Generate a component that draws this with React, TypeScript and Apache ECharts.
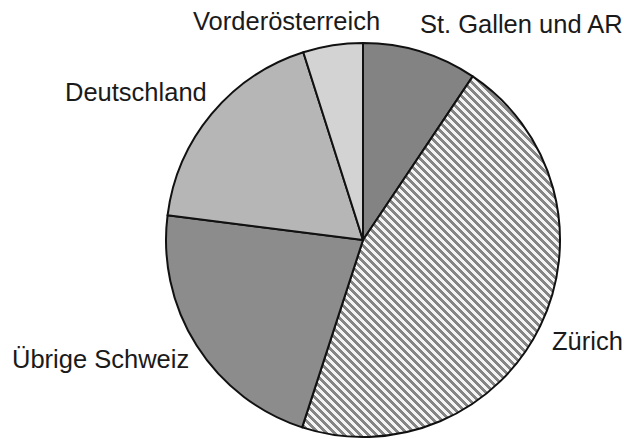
import React, { useEffect, useRef } from "react";
import * as echarts from "echarts";

const categories = ["St. Gallen und AR", "Zürich", "Übrige Schweiz", "Deutschland", "Vorderösterreich"];
const shares = [9.4, 45.6, 22.0, 18.1, 4.9];
const colors = ["#838383", "#858585", "#8c8c8c", "#b6b6b6", "#d3d3d3"];
const hatched = [false, true, false, false, false];
// label anchor positions (style only)
const labelPos = [
  { x: 420, y: 24, align: "left" },
  { x: 552, y: 341, align: "left" },
  { x: 12, y: 359, align: "left" },
  { x: 65, y: 92, align: "left" },
  { x: 193, y: 21, align: "left" },
];

function makeHatch(base: string): string {
  const n = 8;
  const c = document.createElement("canvas");
  c.width = n;
  c.height = n;
  const ctx = c.getContext("2d")!;
  ctx.fillStyle = base;
  ctx.fillRect(0, 0, n, n);
  ctx.fillStyle = "#f4f4f4";
  for (let y = 0; y < n; y++) {
    for (let x = 0; x < n; x++) {
      const k = (((x - y) % n) + n) % n;
      if (k < 4) ctx.fillRect(x, y, 1, 1);
    }
  }
  return c.toDataURL();
}

export default function App() {
  const ref = useRef<HTMLDivElement>(null);
  useEffect(() => {
    if (!ref.current) return;
    const chart = echarts.init(ref.current, null, { renderer: "svg" });
    chart.setOption({
      animation: false,
      backgroundColor: "#ffffff",
      series: [
        {
          type: "pie",
          center: [363, 240],
          radius: 197,
          startAngle: 90,
          clockwise: true,
          silent: true,
          avoidLabelOverlap: false,
          label: {
            show: true,
            position: "outside",
            formatter: "{b}",
            fontFamily: "Liberation Sans, Arial, sans-serif",
            fontSize: 25.5,
            color: "#1a1a1a",
          },
          labelLine: { show: false },
          labelLayout: (params: any) => {
            const p = labelPos[params.dataIndex];
            return { x: p.x, y: p.y, align: p.align, verticalAlign: "middle" };
          },
          data: categories.map((name, i) => ({
            name,
            value: shares[i],
            itemStyle: {
              color: hatched[i] ? { image: makeHatch(colors[i]), repeat: "repeat" } : colors[i],
              borderColor: "#111111",
              borderWidth: 2,
            },
          })),
        },
      ],
    });
    return () => chart.dispose();
  }, []);
  return <div ref={ref} style={{ width: 624, height: 439, position: "absolute", left: 0, top: 0 }} />;
}
